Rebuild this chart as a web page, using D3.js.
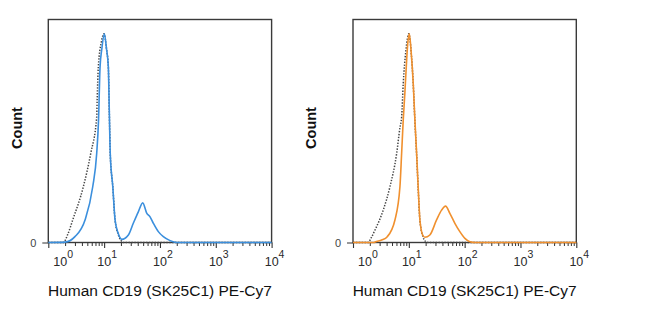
<!DOCTYPE html>
<html><head><meta charset="utf-8">
<script src="https://cdn.jsdelivr.net/npm/d3@7"></script>
<style>body{margin:0;background:#fff} svg{display:block;font-family:"Liberation Sans",Arial,sans-serif}</style>
</head><body><svg id="c" width="650" height="331"></svg>
<script>
// ---- data ----
const xMajorTicks = [1, 10, 100, 1000, 10000];
const xTickExponents = ["0", "1", "2", "3", "4"];
const yTickValues = [0];
const yTickLabels = ["0"];
const yAxisTitle = "Count";
const xAxisTitle = "Human CD19 (SK25C1) PE-Cy7";

// left panel: stained (blue) and isotype (dotted), count in % of max
const stainedLeftX = [1, 2.0, 3.0, 4.55, 6.25, 7.36, 7.94, 8.45, 9.12, 10.1, 11.0, 11.9, 12.4, 12.9, 14.3, 15.7, 17.8, 20.7, 27.2, 33.3, 41.0, 49.2, 57.9, 66.5, 76.2, 93.5, 115, 152, 200, 10000];
const stainedLeftY = [0, 0.2, 2.8, 10.8, 26.7, 42.6, 58.6, 84, 93, 100, 93, 84, 62, 42, 26.7, 10.8, 4.5, 1.5, 3.6, 9.2, 14.7, 19, 14.1, 12.3, 9.2, 5.2, 2.8, 0.9, 0, 0];
const isotypeLeftX = [1, 1.86, 2.24, 2.74, 4.24, 5.75, 7.36, 7.5, 7.87, 8.91, 10, 11.0, 11.9, 12.4, 12.9, 14.3, 15.7, 17.8, 20, 22.4, 10000];
const isotypeLeftY = [0, 0, 4, 10.8, 26.7, 42.6, 60, 68, 84, 96, 100, 93, 84, 62, 42, 26.7, 10.8, 4, 1, 0, 0];

// right panel: stained (orange) and isotype (dotted)
const stainedRightX = [1, 2.4, 2.48, 3.26, 4.11, 5.64, 6.93, 7.43, 7.94, 8.51, 8.91, 9.55, 10.2, 11.1, 12.0, 12.85, 13.8, 14.7, 15.8, 17.7, 19.4, 23.8, 31.4, 38.6, 45.5, 54.3, 66.8, 82, 101, 124, 158, 10000];
const stainedRightY = [0, 0, 0.2, 1.2, 2.8, 10.8, 26.7, 42.6, 58.6, 72, 82, 95, 100, 90, 76, 58.6, 42.6, 26.7, 10.8, 3.6, 2.5, 3.6, 10.8, 15.5, 17.4, 14, 9.2, 5.2, 2, 0.4, 0, 0];
const isotypeRightX = [1, 1.86, 2.14, 2.48, 3.48, 4.59, 6.05, 6.93, 7.43, 7.94, 8.87, 10, 11.1, 12.0, 12.85, 13.8, 14.7, 15.8, 17.8, 20, 22.4, 10000];
const isotypeRightY = [0, 0, 2.5, 6, 15.5, 26.7, 42.6, 55, 60, 76, 92, 100, 90, 76, 58, 42, 26, 10.5, 3, 0.5, 0, 0];

const stainedColors = ["#3b8fdd", "#f0902e"];

// ---- layout ----
const panelLefts = [48.3, 353];
const panelWidth = 223.3;
const plotTop = 19.5, plotBottom = 242.5;
const countOffsets = [-30, -41.3];
const yMax = 106.8;

const panels = [
  {sx: stainedLeftX, sy: stainedLeftY, ix: isotypeLeftX, iy: isotypeLeftY},
  {sx: stainedRightX, sy: stainedRightY, ix: isotypeRightX, iy: isotypeRightY}
];

const svg = d3.select("#c");
const minorTicks = [];
xMajorTicks.slice(0, -1).forEach(v => { for (let m = 2; m <= 9; m++) minorTicks.push(v * m); });

panels.forEach((p, i) => {
  const x0 = panelLefts[i], x1 = x0 + panelWidth;
  const x = d3.scaleLog().domain([1, 10000]).range([x0, x1]);
  const y = d3.scaleLinear().domain([0, yMax]).range([plotBottom, plotTop]);
  const g = svg.append("g");

  // frame
  g.append("rect").attr("x", x0).attr("y", plotTop).attr("width", x1 - x0).attr("height", plotBottom - plotTop)
    .attr("fill", "none").attr("stroke", "#3a3a3a").attr("stroke-width", 1.4);

  // minor ticks
  const minorAxis = d3.axisBottom(x).tickValues(minorTicks).tickSize(3.5).tickFormat("");
  const ga = g.append("g").attr("transform", `translate(0,${plotBottom})`).call(minorAxis);
  ga.select(".domain").remove();
  ga.selectAll("line").attr("stroke", "#333").attr("stroke-width", 1);
  const majorAxis = d3.axisBottom(x).tickValues(xMajorTicks).tickSize(5.5).tickFormat("");
  const gm = g.append("g").attr("transform", `translate(0,${plotBottom})`).call(majorAxis);
  gm.select(".domain").remove();
  gm.selectAll("line").attr("stroke", "#333").attr("stroke-width", 1.1);

  // major labels 10^n
  xMajorTicks.forEach((v, k) => {
    const sx = Math.max(x(v) - 6.9, x0 + 5);
    const t = g.append("text").attr("x", sx).attr("y", 265.5).attr("fill", "#2a2a2a").attr("font-size", 12.5);
    t.append("tspan").text("10");
    t.append("tspan").attr("dy", -8).attr("font-size", 10.5).text(xTickExponents[k]);
  });

  // y axis zero tick
  const yAxis = d3.axisLeft(y).tickValues(yTickValues).tickSize(6).tickPadding(6).tickFormat((d, k) => yTickLabels[k]);
  const gy = g.append("g").attr("transform", `translate(${x0},0)`).call(yAxis);
  gy.select(".domain").remove();
  gy.selectAll("line").attr("stroke", "#333");
  gy.selectAll("text").attr("font-size", 11).attr("fill", "#444").attr("font-family", "'Liberation Sans',Arial,sans-serif");

  // curves
  const line = d3.line().x(d => x(d[0])).y(d => y(d[1])).curve(d3.curveMonotoneX);
  const iso = p.ix.map((v, k) => [v, p.iy[k]]);
  const st = p.sx.map((v, k) => [v, p.sy[k]]);
  g.append("path").attr("d", line(iso)).attr("fill", "none").attr("stroke", "#444")
    .attr("stroke-width", 1.5).attr("stroke-dasharray", "1.4,1.5");
  g.append("path").attr("d", line(st)).attr("fill", "none").attr("stroke", stainedColors[i])
    .attr("stroke-width", 1.6).attr("stroke-linejoin", "round");

  // titles
  g.append("text").attr("transform", `translate(${x0 + countOffsets[i]},${(plotTop + plotBottom) / 2 - 3}) rotate(-90)`)
    .attr("text-anchor", "middle").attr("dominant-baseline", "middle").attr("font-weight", "bold")
    .attr("font-size", 14.5).attr("fill", "#111").text(yAxisTitle);
  g.append("text").attr("x", (x0 + x1) / 2).attr("y", 296).attr("text-anchor", "middle")
    .attr("font-size", 15.5).attr("fill", "#111").text(xAxisTitle);
});
</script></body></html>
